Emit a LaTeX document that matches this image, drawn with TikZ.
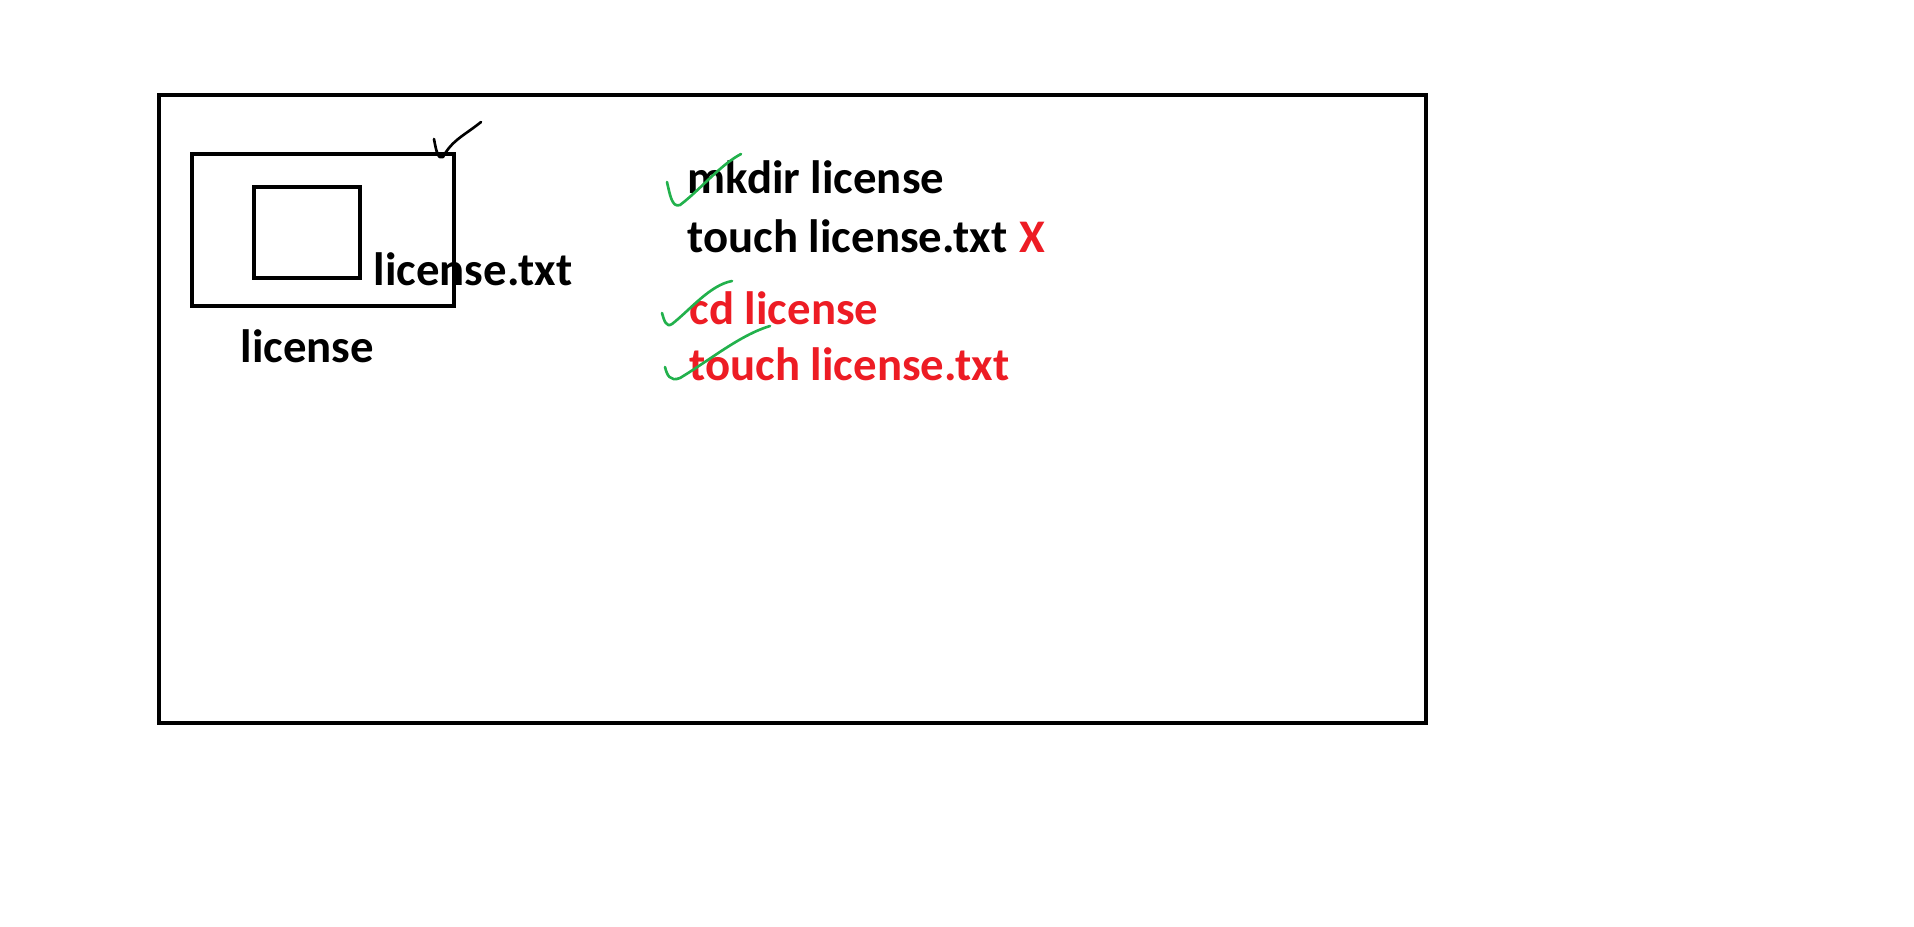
\documentclass[tikz,border=0pt]{standalone}
\usepackage{fontspec}
\setmainfont{Carlito}
\usetikzlibrary{positioning}
\definecolor{paintred}{RGB}{237,28,36}
\definecolor{paintgreen}{RGB}{34,177,76}
\tikzset{
  lbl/.style={inner sep=0pt, anchor=base west, font=\fontsize{13.3}{16}\selectfont\bfseries},
  box/.style={line width=1.35pt},
  tick/.style={line width=0.75pt, line cap=round, line join=round}
}

\begin{document}
\begin{tikzpicture}[x=0.01cm, y=-0.01cm]
\useasboundingbox (0,0) rectangle (1914,926);

\draw[box] (159,95) rectangle (1426,723);
\draw[box] (192,154) rectangle (454,306);
\draw[box] (254,187) rectangle (360,278);

\node[lbl] (txtfile) at (373,285) {license.txt};
\node[lbl] (dirname) at (240,362) {license};

\node[lbl] (mkdir) at (687,193) {mkdir license};
\node[lbl] (touch1) at (687,252) {touch license.txt};
\node[lbl, text=paintred, right=3pt of touch1.base east, anchor=base west] (cross) {X};
\node[lbl, text=paintred] (cd) at (689,324) {cd license};
\node[lbl, text=paintred] (touch2) at (689,380) {touch license.txt};

% ticks
\draw[tick] (434,139) .. controls (436,150) and (438,160) .. (443,157) .. controls (452,140) and (465,135) .. (481,122);
\draw[tick, paintgreen] (667,182) .. controls (670,195) and (672,208) .. (680,205) .. controls (700,190) and (720,165) .. (741,154);
\draw[tick, paintgreen] (662,313) .. controls (664,320) and (666,328) .. (672,324) .. controls (690,310) and (710,285) .. (732,281);
\draw[tick, paintgreen] (665,367) .. controls (667,375) and (670,382) .. (680,378) .. controls (710,360) and (740,335) .. (770,326);
\end{tikzpicture}
\end{document}
